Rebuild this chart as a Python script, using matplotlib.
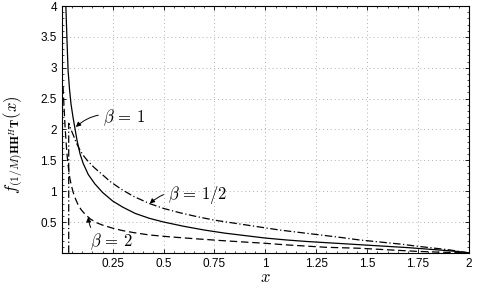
import matplotlib
matplotlib.use("Agg")
import matplotlib.pyplot as plt
from matplotlib.ticker import MultipleLocator

plt.rcParams["mathtext.fontset"] = "cm"
plt.rcParams["font.family"] = ["Liberation Sans", "DejaVu Sans"]

# beta = 1 (solid)
x_b1 = [0.018, 0.02, 0.025, 0.031, 0.038, 0.045, 0.055, 0.064, 0.075, 0.09,
        0.105, 0.13, 0.162, 0.2, 0.25, 0.3, 0.36, 0.43, 0.5, 0.6, 0.7, 0.8,
        0.9, 1.0, 1.1, 1.2, 1.3, 1.4, 1.5, 1.6, 1.7, 1.8, 1.9, 1.95, 2.0]
y_b1 = [4.3, 4.0, 3.5, 2.95, 2.65, 2.42, 2.2, 2.03, 1.82, 1.6,
        1.45, 1.27, 1.12, 0.98, 0.84, 0.74, 0.64, 0.56, 0.5, 0.43, 0.37, 0.32,
        0.28, 0.24, 0.21, 0.185, 0.165, 0.145, 0.125, 0.105, 0.085, 0.06, 0.035, 0.02, 0.0]

# beta = 1/2 (dash-dot)
x_bh = [0.034, 0.034, 0.045, 0.06, 0.072, 0.09, 0.11, 0.13, 0.16, 0.195,
        0.24, 0.293, 0.35, 0.43, 0.5, 0.58, 0.66, 0.75, 0.85, 0.95, 1.07,
        1.17, 1.27, 1.37, 1.46, 1.58, 1.67, 1.74, 1.82, 1.9, 2.0]
y_bh = [0.0, 2.1, 2.0, 1.88, 1.78, 1.66, 1.56, 1.48, 1.38, 1.28,
        1.15, 1.03, 0.92, 0.8, 0.72, 0.65, 0.59, 0.53, 0.48, 0.43, 0.37,
        0.33, 0.29, 0.25, 0.21, 0.17, 0.14, 0.11, 0.08, 0.05, 0.0]

# beta = 2 (dashed)
x_b2 = [0.006, 0.009, 0.012, 0.016, 0.02, 0.025, 0.031, 0.04, 0.048, 0.056,
        0.068, 0.08, 0.095, 0.113, 0.14, 0.17, 0.2, 0.25, 0.3, 0.35, 0.43,
        0.53, 0.65, 0.78, 0.9, 1.0, 1.1, 1.2, 1.3, 1.46, 1.6, 1.74, 1.85, 2.0]
y_b2 = [2.7, 2.5, 2.3, 2.05, 1.85, 1.62, 1.42, 1.2, 1.08, 0.98,
        0.87, 0.78, 0.7, 0.63, 0.55, 0.49, 0.45, 0.4, 0.36, 0.33, 0.29,
        0.26, 0.23, 0.2, 0.175, 0.155, 0.13, 0.11, 0.09, 0.075, 0.05, 0.025, 0.012, 0.0]

xticks = [0.25, 0.5, 0.75, 1, 1.25, 1.5, 1.75, 2]
yticks = [0.5, 1, 1.5, 2, 2.5, 3, 3.5, 4]

fig = plt.figure(figsize=(4.79, 2.88), dpi=100)
ax = fig.add_axes([0.129, 0.122, 0.850, 0.857])

ax.plot(x_b1, y_b1, color="black", lw=0.9)
ax.plot(x_bh, y_bh, color="black", lw=0.9, dashes=[6, 2, 1, 2])
ax.plot(x_b2, y_b2, color="black", lw=0.9, dashes=[6, 3])

ax.set_xlim(0, 2)
ax.set_ylim(0, 4)
ax.set_xticks(xticks)
ax.set_xticklabels([str(t) for t in xticks])
ax.set_yticks(yticks)
ax.set_yticklabels([str(t) for t in yticks])
ax.xaxis.set_minor_locator(MultipleLocator(0.05))
ax.yaxis.set_minor_locator(MultipleLocator(0.1))
ax.tick_params(which="both", direction="in", top=True, right=True, labelsize=8.5)
ax.tick_params(which="major", length=3, width=0.6)
ax.tick_params(which="minor", length=1.5, width=0.5)
ax.grid(True, which="major", color="#b0b0b0", linestyle=(0, (1, 3)), lw=0.7)
for s in ax.spines.values():
    s.set_linewidth(0.8)

ax.set_xlabel("$x$", fontsize=12, labelpad=0)
ax.set_ylabel(r"$f_{(1/M)\mathbf{HH}^H\mathbf{T}}(x)$", fontsize=12)
ax.yaxis.set_label_coords(-0.09, 0.44)

arrow = dict(arrowstyle="-|>", color="black", lw=0.7, mutation_scale=7,
             connectionstyle="arc3,rad=0.3", shrinkA=1, shrinkB=0)
ax.annotate(r"$\beta\,=\,1$", xy=(0.069, 2.04), xytext=(0.2, 2.19),
            fontsize=12, ha="left", va="center", arrowprops=arrow)
ax.annotate(r"$\beta\,=\,1/2$", xy=(0.432, 0.8), xytext=(0.52, 0.94),
            fontsize=12, ha="left", va="center", arrowprops=arrow)
ax.annotate(r"$\beta\,=\,2$", xy=(0.13, 0.58), xytext=(0.14, 0.18),
            fontsize=12, ha="left", va="center",
            arrowprops=dict(arrow, connectionstyle="arc3,rad=-0.4"))

fig.savefig("out.png", dpi=100)
